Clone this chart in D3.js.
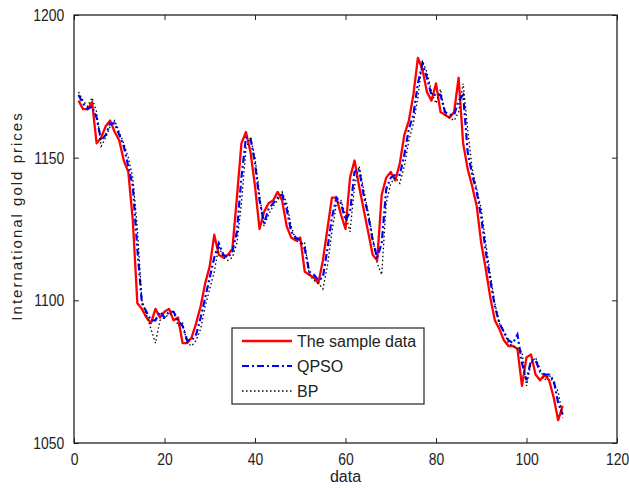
<!DOCTYPE html>
<html>
<head>
<meta charset="utf-8">
<script src="https://cdn.jsdelivr.net/npm/d3@7"></script>
<style>
  body { margin: 0; background: #fff; }
  .tick text { font-family: "Liberation Sans", Arial, sans-serif; font-size: 17px; fill: #222; }
</style>
</head>
<body>
<div id="chart"></div>
<script>
// Sample data (red), QPSO prediction (blue), BP prediction (black dotted)
var sampleData = [1170,1167,1167,1169.5,1155,1157,1161,1163,1159,1156,
  1149,1145,1128,1099,1097,1094,1092,1097,1094,1096,
  1097,1093,1094,1085,1085,1087,1092,1098,1106,1112,
  1123,1116,1115,1116,1118,1136,1155,1159,1152,1140,
  1125,1131,1134,1135,1138,1135,1126,1122,1121,1122,
  1110,1109,1108,1106,1114,1125,1136,1136,1130,1125,
  1143,1149,1140,1132,1124,1116,1114,1137,1143,1145,
  1142,1148,1158,1163,1172,1185,1181,1173,1170,1176,
  1166,1165,1164,1166,1178,1155,1146,1140,1133,1120,
  1111,1101,1093,1090,1086,1084,1084,1083,1070,1080,
  1081,1074,1072,1074,1072,1066,1058,1063];

var qpso = [1172,1169,1167,1168,1164,1156,1158,1162,1162,1158,
  1154,1147,1140,1118,1099,1096,1093,1093,1096,1094,
  1096,1096,1093,1091,1086,1086,1088,1094,1101,1108,
  1115,1120,1116,1115,1117,1124,1143,1157,1157,1148,
  1135,1127,1132,1134,1136,1137,1132,1124,1122,1121,
  1118,1110,1109,1107,1108,1118,1129,1136,1134,1128,
  1131,1145,1146,1137,1130,1121,1115,1120,1139,1143,
  1144,1144,1151,1160,1165,1176,1183,1178,1172,1172,
  1172,1166,1165,1165,1170,1172,1152,1144,1138,1129,
  1117,1107,1098,1092,1089,1086,1085,1088,1078,1072,
  1079,1079,1075,1074,1074,1072,1064,1060];

var bp = [1173,1170,1168,1171,1166,1154,1157,1161,1163,1159,
  1155,1150,1143,1125,1100,1095,1090,1085,1093,1094,
  1095,1096,1091,1092,1085,1084,1086,1090,1098,1104,
  1110,1119,1115,1114,1115,1120,1134,1153,1157,1150,
  1137,1126,1130,1133,1135,1138,1134,1126,1121,1120,
  1120,1109,1107,1106,1104,1112,1124,1134,1135,1130,
  1124,1140,1147,1139,1131,1122,1113,1109,1134,1141,
  1143,1141,1147,1156,1162,1171,1184,1180,1173,1169,
  1174,1165,1164,1163,1166,1176,1160,1146,1139,1132,
  1120,1109,1099,1092,1089,1085,1084,1083,1082,1070,
  1078,1080,1076,1072,1074,1071,1068,1059];

var xTicks = [0, 20, 40, 60, 80, 100, 120];
var yTicks = [1050, 1100, 1150, 1200];
var legendNames = ["The sample data", "QPSO", "BP"];

var W = 629, H = 488;
var margin = {top: 15, right: 12, bottom: 45, left: 74};
var w = W - margin.left - margin.right,
    h = H - margin.top - margin.bottom;

var svg = d3.select("#chart").append("svg")
  .attr("width", W)
  .attr("height", H);

var g = svg.append("g")
  .attr("transform", "translate(" + margin.left + "," + margin.top + ")");

var x = d3.scaleLinear().domain([0, 120]).range([0, w]);
var y = d3.scaleLinear().domain([1050, 1200]).range([h, 0]);

// axes, MATLAB style: ticks inside, box around
g.append("g")
  .attr("transform", "translate(0," + h + ")")
  .call(d3.axisBottom(x).tickValues(xTicks).tickFormat(d3.format("d"))
    .tickSizeInner(-5).tickSizeOuter(0).tickPadding(10))
  .call(a => a.select(".domain").remove())
  .selectAll(".tick text").attr("transform", "scale(0.82,1)");
g.append("g")
  .call(d3.axisTop(x).tickValues(xTicks).tickSizeInner(-5).tickSizeOuter(0).tickFormat(""))
  .call(a => a.select(".domain").remove());
g.append("g")
  .call(d3.axisLeft(y).tickValues(yTicks).tickFormat(d3.format("d"))
    .tickSizeInner(-5).tickSizeOuter(0))
  .call(a => a.select(".domain").remove())
  .selectAll(".tick text").attr("x", -12).attr("transform", "scale(0.82,1)");
g.append("g")
  .attr("transform", "translate(" + w + ",0)")
  .call(d3.axisRight(y).tickValues(yTicks).tickSizeInner(-5).tickSizeOuter(0).tickFormat(""))
  .call(a => a.select(".domain").remove());

g.selectAll(".tick line").attr("stroke", "#222");

g.append("rect")
  .attr("width", w).attr("height", h)
  .attr("fill", "none").attr("stroke", "#222").attr("stroke-width", 1.3);

var line = d3.line()
  .x((d, i) => x(i + 1))
  .y(d => y(d));

g.append("path").datum(sampleData)
  .attr("fill", "none").attr("stroke", "#ff0000")
  .attr("stroke-width", 2.3).attr("stroke-linejoin", "round")
  .attr("d", line);

g.append("path").datum(qpso)
  .attr("fill", "none").attr("stroke", "#0000ff")
  .attr("stroke-width", 2.2).attr("stroke-dasharray", "7,3,2,3")
  .attr("d", line);

g.append("path").datum(bp)
  .attr("fill", "none").attr("stroke", "#000")
  .attr("stroke-width", 1.3).attr("stroke-dasharray", "1.5,2.5")
  .attr("d", line);

// axis labels
svg.append("text")
  .attr("x", margin.left + w / 2).attr("y", 482)
  .attr("text-anchor", "middle")
  .style("font-family", "Liberation Sans, Arial, sans-serif")
  .style("font-size", "16px").style("fill", "#222")
  .text("data");

svg.append("text")
  .attr("transform", "translate(22,216) rotate(-90)")
  .attr("text-anchor", "middle")
  .style("font-family", "Liberation Sans, Arial, sans-serif")
  .style("font-size", "15px").style("letter-spacing", "2px").style("fill", "#222")
  .text("International gold prices");

// legend
var lg = svg.append("g").attr("transform", "translate(232,328)");
lg.append("rect")
  .attr("width", 192).attr("height", 76)
  .attr("fill", "#fff").attr("stroke", "#222").attr("stroke-width", 1.2);

var legendStyles = [
  {color: "#ff0000", width: 2.3, dash: null},
  {color: "#0000ff", width: 2.2, dash: "7,3,2,3"},
  {color: "#000", width: 1.3, dash: "1.5,2.5"}
];

legendNames.forEach(function(name, i) {
  var ly = 13 + i * 25;
  var s = legendStyles[i];
  lg.append("line")
    .attr("x1", 10).attr("x2", 60).attr("y1", ly).attr("y2", ly)
    .attr("stroke", s.color).attr("stroke-width", s.width)
    .attr("stroke-dasharray", s.dash);
  lg.append("text")
    .attr("x", 65).attr("y", ly + 6)
    .style("font-family", "Liberation Sans, Arial, sans-serif")
    .style("font-size", "16px").style("fill", "#222")
    .text(name);
});
</script>
</body>
</html>
